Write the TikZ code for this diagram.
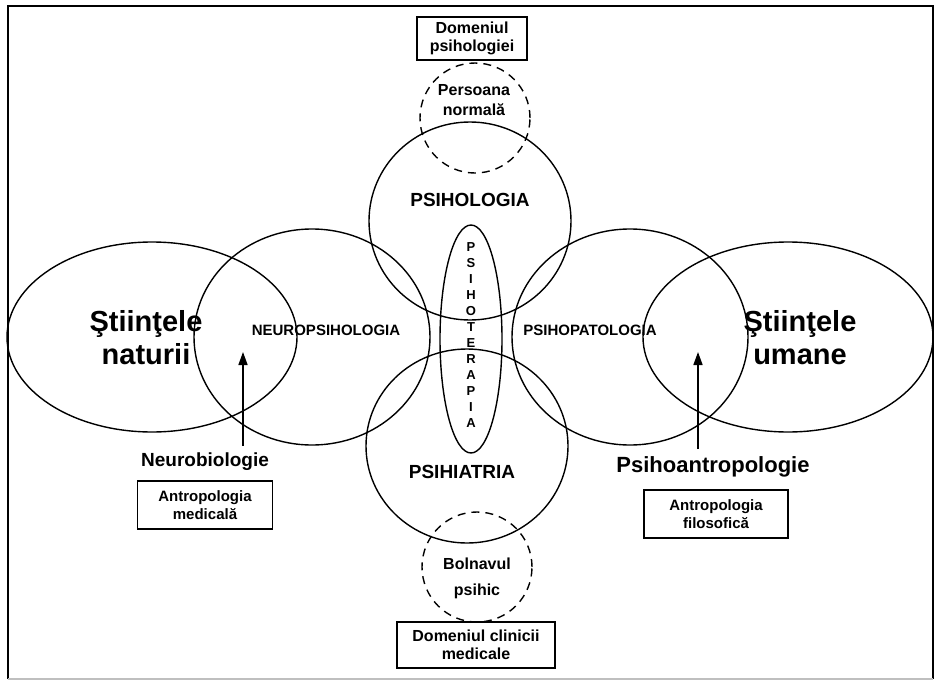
\documentclass[tikz,border=0pt]{standalone}
\usepackage{fontspec}
\setmainfont{Liberation Sans}
\usetikzlibrary{shapes.geometric,arrows.meta}
\begin{document}
\begin{tikzpicture}[x=1pt,y=-1pt,
  ring/.style={draw, ellipse, line width=1.4pt, inner sep=0pt},
  zone/.style={draw, circle, line width=1.4pt, dash pattern=on 8pt off 6pt, inner sep=0pt, minimum size=110pt},
  labelbox/.style={draw, line width=1.2pt, align=center, inner sep=0pt, font=\bfseries\fontsize{16}{18}\selectfont},
  bigtxt/.style={align=center, font=\bfseries\fontsize{29}{33}\selectfont},
  midtxt/.style={align=center, font=\bfseries\fontsize{19}{21}\selectfont},
  rowtxt/.style={font=\bfseries\fontsize{15}{17}\selectfont},
  lettertxt/.style={inner sep=0pt, font=\bfseries\fontsize{13}{15}\selectfont},
  arr/.style={-{Triangle[length=13pt,width=9pt]}, line width=1.6pt}
]
\useasboundingbox (0,0) rectangle (937,680);

% outer frame
\draw[line width=2pt] (8,679) -- (8,6) -- (933,6) -- (933,679);
\draw[black!25, line width=1.5pt] (8,679) -- (933,679);

% horizontal row of fields
\node[ring, minimum width=290pt, minimum height=190pt] (nat) at (152,337) {};
\node[ring, minimum width=236pt, minimum height=216pt] (neuro) at (312,337) {};
\node[ring, minimum width=236pt, minimum height=216pt] (pato) at (630,337) {};
\node[ring, minimum width=290pt, minimum height=190pt] (uman) at (788,337) {};

% vertical column of fields
\node[ring, minimum width=202pt, minimum height=198pt] (psiho) at (470,221) {};
\node[ring, minimum width=202pt, minimum height=194pt] (psihia) at (467,446) {};
\node[ring, minimum width=62pt, minimum height=228pt] (terapia) at (471,339) {};

% dashed domains
\node[zone] (normal) at (475,118) {};
\node[zone] (bolnav) at (477,567) {};

% boxes at the ends of the column
\node[labelbox, minimum width=110pt, minimum height=43pt] (dompsi) at (472,38.5) {Domeniul\\psihologiei};
\node[labelbox, minimum width=158pt, minimum height=46pt] (domclin) at (476,645) {Domeniul clinicii\\medicale};

% texts
\node[bigtxt] (tnat) at (146,338) {Ştiinţele\\naturii};
\node[bigtxt] (tuman) at (800,338) {Ştiinţele\\umane};
\node[rowtxt] (tneuro) at (326,330) {NEUROPSIHOLOGIA};
\node[rowtxt] (tpato) at (590,330) {PSIHOPATOLOGIA};
\node[midtxt] (tpsiho) at (470,200) {PSIHOLOGIA};
\node[midtxt] (tpsihia) at (462,472) {PSIHIATRIA};
\node[align=center, font=\bfseries\fontsize{16}{20}\selectfont] (tnormal) at (474,100) {Persoana\\normală};
\node[align=center, font=\bfseries\fontsize{16}{26}\selectfont] (tbolnav) at (477,578) {Bolnavul\\psihic};
\foreach \c [count=\i from 0] in {P,S,I,H,O,T,E,R,A,P,I,A}
  \node[lettertxt] (let\i) at (471,247+16*\i) {\c};

% lower side labels with arrows
\node[midtxt] (tbio) at (205,462) {Neurobiologie};
\node[labelbox, minimum width=135pt, minimum height=48pt, font=\bfseries\fontsize{15}{18}\selectfont] (antmed) at (205,505) {Antropologia\\medicală};
\node[align=center, font=\bfseries\fontsize{22}{24}\selectfont] (tantro) at (713,467) {Psihoantropologie};
\node[labelbox, minimum width=144pt, minimum height=48pt, font=\bfseries\fontsize{15}{18}\selectfont] (antfil) at (716,514) {Antropologia\\filosofică};

\coordinate (tipL) at (243,352);
\coordinate (tipR) at (698,352);
\draw[arr] ([yshift=4pt]tipL |- tbio.north) -- (tipL);
\draw[arr] ([yshift=4pt]tipR |- tantro.north) -- (tipR);
\end{tikzpicture}
\end{document}
